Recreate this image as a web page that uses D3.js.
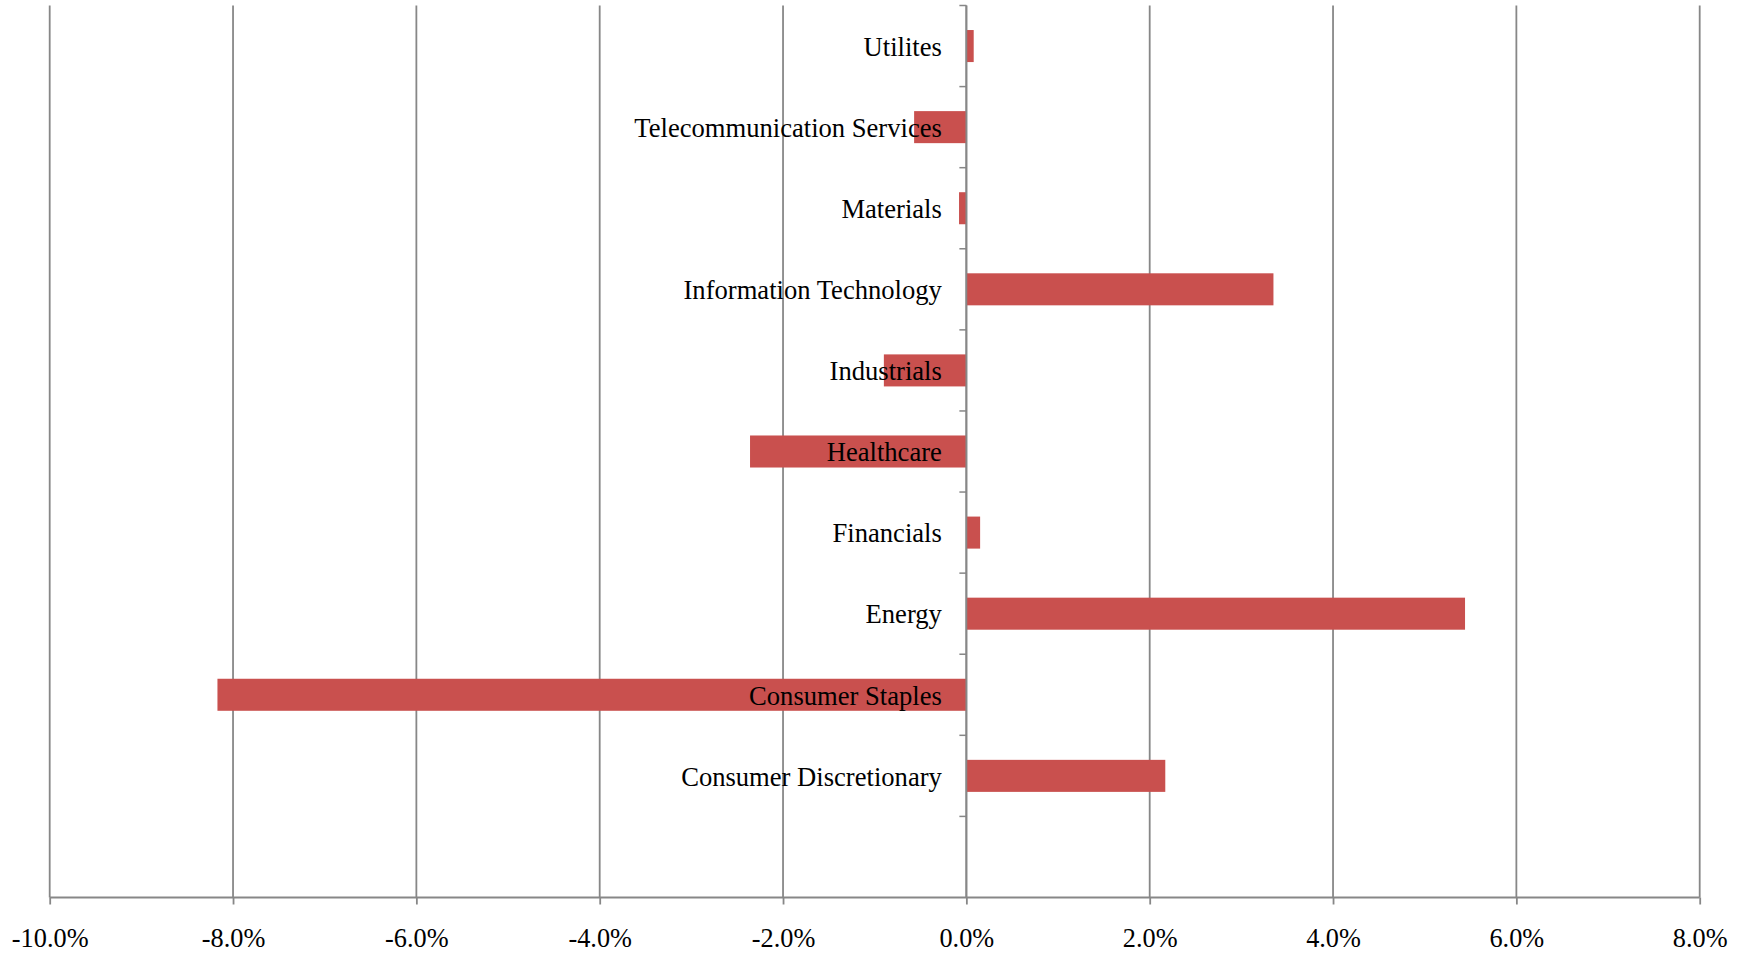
<!DOCTYPE html>
<html>
<head>
<meta charset="utf-8">
<script src="https://cdn.jsdelivr.net/npm/d3@7/dist/d3.min.js"></script>
<style>
  html, body { margin: 0; padding: 0; background: #ffffff; }
  svg { display: block; }
  text { font-family: "Liberation Serif", "Times New Roman", serif; fill: #000; }
</style>
</head>
<body>
<svg id="chart" width="1742" height="953"></svg>
<script>
// Sector returns (%), listed top to bottom; the last slot is an empty category row
const categories = [
  "Utilites",
  "Telecommunication Services",
  "Materials",
  "Information Technology",
  "Industrials",
  "Healthcare",
  "Financials",
  "Energy",
  "Consumer Staples",
  "Consumer Discretionary",
  ""
];
const values = [0.08, -0.57, -0.08, 3.35, -0.90, -2.36, 0.15, 5.44, -8.17, 2.17, null];
const tickValues = [-10, -8, -6, -4, -2, 0, 2, 4, 6, 8];
const tickLabels = ["-10.0%", "-8.0%", "-6.0%", "-4.0%", "-2.0%", "0.0%", "2.0%", "4.0%", "6.0%", "8.0%"];

const svg = d3.select("#chart");
const gridColor = "#878787";
const barColor = "#C9504E";

const x = d3.scaleLinear().domain([-10, 8]).range([49.7, 1699.7]);
const y = d3.scaleBand().domain(categories).range([5.5, 897.5])
  .paddingInner(0.605).paddingOuter(0.3025);

// vertical gridlines
svg.append("g").selectAll("line")
  .data(tickValues)
  .join("line")
  .attr("x1", d => x(d)).attr("x2", d => x(d))
  .attr("y1", y.range()[0]).attr("y2", y.range()[1])
  .attr("stroke", gridColor).attr("stroke-width", 1.8);

// bars
const rows = categories.map((c, i) => ({ c, v: values[i] })).filter(d => d.v !== null);
svg.append("g").selectAll("rect")
  .data(rows)
  .join("rect")
  .attr("x", d => x(Math.min(0, d.v)))
  .attr("width", d => Math.abs(x(d.v) - x(0)))
  .attr("y", d => y(d.c))
  .attr("height", y.bandwidth())
  .attr("fill", barColor);

// category axis at zero with outward ticks on slot boundaries
const slotTop = c => y(c) - (y.step() - y.bandwidth()) / 2;
const catAxis = svg.append("g");
catAxis.append("line")
  .attr("x1", x(0)).attr("x2", x(0))
  .attr("y1", y.range()[0]).attr("y2", y.range()[1])
  .attr("stroke", gridColor).attr("stroke-width", 1.8);
catAxis.selectAll("line.tick")
  .data(categories)
  .join("line")
  .attr("class", "tick")
  .attr("x1", x(0) - 7).attr("x2", x(0))
  .attr("y1", d => slotTop(d)).attr("y2", d => slotTop(d))
  .attr("stroke", gridColor).attr("stroke-width", 1.5);

// category labels
svg.append("g").selectAll("text")
  .data(categories.filter(c => c !== ""))
  .join("text")
  .attr("x", x(0) - 24.5)
  .attr("y", d => y(d) + y.bandwidth() / 2 + 1)
  .attr("dy", "0.33em")
  .attr("text-anchor", "end")
  .style("font-size", "26.6px")
  .text(d => d);

// value axis
const xAxis = d3.axisBottom(x)
  .tickValues(tickValues)
  .tickFormat((d, i) => tickLabels[i])
  .tickSize(7)
  .tickPadding(24);
const gx = svg.append("g")
  .attr("transform", `translate(0,${y.range()[1]})`)
  .call(xAxis);
gx.select(".domain").attr("stroke", gridColor).attr("stroke-width", 1.8)
  .attr("d", `M${x.range()[0]},0H${x.range()[1]}`);
gx.selectAll(".tick line").attr("stroke", gridColor).attr("stroke-width", 1.8);
gx.selectAll(".tick text")
  .style("font-size", "26.3px")
  .style("font-family", "'Liberation Serif', 'Times New Roman', serif")
  .attr("fill", "#000");
</script>
</body>
</html>
